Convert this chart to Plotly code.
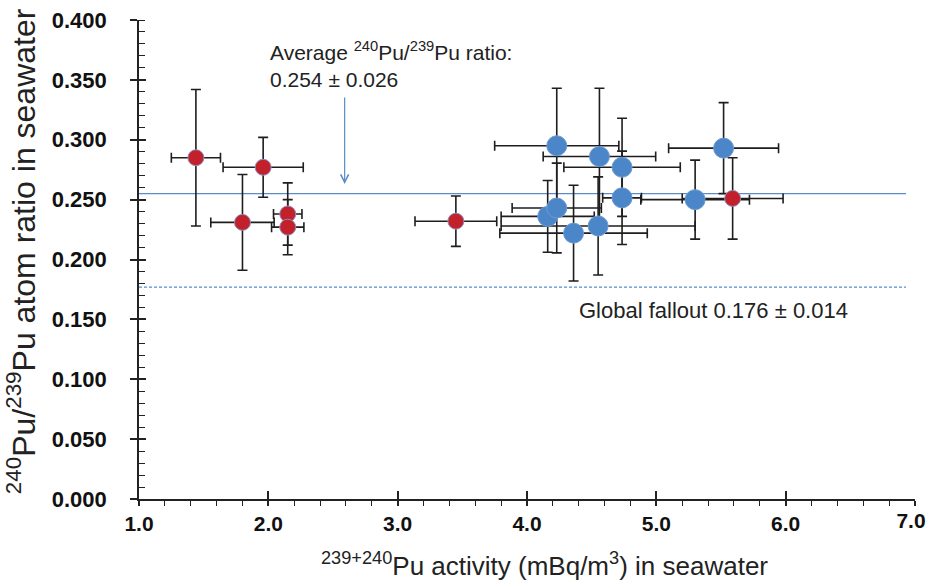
import plotly.graph_objects as go

# ---------------- data ----------------
red_x = [1.44, 1.96, 1.80, 2.15, 2.15, 3.45, 5.59]
red_y = [0.285, 0.277, 0.231, 0.238, 0.227, 0.232, 0.251]
red_xerr = [0.19, 0.31, 0.245, 0.11, 0.125, 0.316, 0.39]
red_yerr = [0.057, 0.025, 0.040, 0.026, 0.023, 0.021, 0.034]

blue_x = [4.23, 4.56, 4.735, 4.735, 4.16, 4.23, 4.36, 4.55, 5.30, 5.52]
blue_y = [0.295, 0.286, 0.277, 0.2515, 0.236, 0.243, 0.222, 0.228, 0.250, 0.293]
blue_xerr = [0.48, 0.435, 0.45, 0.15, 0.36, 0.345, 0.57, 0.75, 0.42, 0.425]
blue_yerr = [0.048, 0.057, 0.041, 0.039, 0.030, 0.0375, 0.040, 0.041, 0.033, 0.038]

avg_ratio = 0.255
fallout_ratio = 0.177
ref_line_x = [1.0, 6.93]

arrow_x = 2.59
arrow_y_top = 0.3365
arrow_y_tip = 0.263

x_range = [1.0, 7.0]
y_range = [0.0, 0.4]
x_tick_vals = [1, 2, 3, 4, 5, 6, 7]
x_tick_text = ["1.0", "2.0", "3.0", "4.0", "5.0", "6.0", "7.0"]

avg_text_1 = "Average <sup>240</sup>Pu/<sup>239</sup>Pu ratio:"
avg_text_2 = "0.254 ± 0.026"
fallout_text = "Global fallout 0.176 ± 0.014"
x_title = "<sup>239+240</sup>Pu activity (mBq/m<sup>3</sup>) in seawater"
y_title = "<sup>240</sup>Pu/<sup>239</sup>Pu atom ratio in seawater"

# ---------------- styles ----------------
FONT = "Liberation Sans, Arial, sans-serif"
AX = "#222222"
EB = "#1e1e1e"
RED = "#c2202b"
BLUE = "#4a86c8"
LINE_BLUE = "#5b8bc9"

fig = go.Figure()

# reference lines
fig.add_trace(go.Scatter(x=ref_line_x, y=[avg_ratio, avg_ratio], mode="lines",
                         line=dict(color=LINE_BLUE, width=1.3), hoverinfo="skip", showlegend=False))
fig.add_trace(go.Scatter(x=ref_line_x, y=[fallout_ratio, fallout_ratio], mode="lines",
                         line=dict(color=LINE_BLUE, width=1.2, dash="3px,2px"), hoverinfo="skip",
                         showlegend=False))

# error bars (drawn below all markers)
for xs, ys, xe, ye in [(blue_x, blue_y, blue_xerr, blue_yerr), (red_x, red_y, red_xerr, red_yerr)]:
    fig.add_trace(go.Scatter(
        x=xs, y=ys, mode="markers",
        marker=dict(color="rgba(0,0,0,0)", size=1),
        error_x=dict(type="data", array=xe, color=EB, thickness=1.6, width=5),
        error_y=dict(type="data", array=ye, color=EB, thickness=1.6, width=5),
        hoverinfo="skip", showlegend=False))

# markers
fig.add_trace(go.Scatter(x=blue_x, y=blue_y, mode="markers",
                         marker=dict(color=BLUE, size=20, line=dict(color="#6e9ad2", width=1)),
                         showlegend=False))
fig.add_trace(go.Scatter(x=red_x, y=red_y, mode="markers",
                         marker=dict(color=RED, size=16, line=dict(color="#8f8fc0", width=1)),
                         showlegend=False))

# invisible trace on overlay axes (for crossing major ticks)
fig.add_trace(go.Scatter(x=[None], y=[None], xaxis="x2", yaxis="y2", mode="markers",
                         showlegend=False, hoverinfo="skip"))

# main axis labels 1.0..6.0, last label (7.0) drawn by the overlay axis, nudged left to fit
main_text = x_tick_text[:-1] + [""]
last_text = [""] * (len(x_tick_text) - 1) + [x_tick_text[-1]]

xfont = dict(family=FONT, size=21, color="#111111", weight="bold")

fig.update_layout(
    width=927, height=582,
    margin=dict(l=139, r=12, t=20, b=83, autoexpand=False),
    paper_bgcolor="white", plot_bgcolor="white",
    font=dict(family=FONT, color="#111111"),
    xaxis=dict(range=x_range, tickmode="array", tickvals=x_tick_vals, ticktext=main_text,
               automargin=False, showline=True, linecolor=AX, linewidth=1.6, mirror=False,
               ticks="outside", ticklen=5, tickwidth=1.6, tickcolor=AX,
               minor=dict(dtick=0.2, tick0=1, ticks="outside", ticklen=5, tickwidth=1.3,
                          tickcolor=AX, showgrid=False),
               showgrid=False, zeroline=False, tickfont=xfont,
               ticklabelstandoff=0, ticklabeloverflow="allow"),
    yaxis=dict(range=y_range, tick0=0, dtick=0.05, tickformat=".3f", automargin=False,
               showline=True, linecolor=AX, linewidth=1.6,
               ticks="outside", ticklen=7, tickwidth=1.6, tickcolor=AX,
               minor=dict(dtick=0.01, ticks="inside", ticklen=6, tickwidth=1.3, tickcolor=AX, showgrid=False),
               showgrid=False, zeroline=False,
               tickfont=dict(family=FONT, size=22, color="#111111", weight="bold"),
               ticklabelstandoff=19, ticklabeloverflow="allow"),
    xaxis2=dict(range=x_range, overlaying="x", anchor="y", side="bottom",
                tickmode="array", tickvals=x_tick_vals, ticktext=last_text,
                ticks="inside", ticklen=8, tickwidth=1.6, tickcolor=AX, showticklabels=True,
                tickfont=xfont, ticklabelstandoff=7, ticklabelshift=-4, ticklabeloverflow="allow",
                showline=False, showgrid=False, zeroline=False, automargin=False),
    yaxis2=dict(range=y_range, overlaying="y", anchor="x", side="left", tick0=0, dtick=0.05,
                ticks="inside", ticklen=7, tickwidth=1.6, tickcolor=AX, showticklabels=False,
                showline=False, showgrid=False, zeroline=False, automargin=False),
    annotations=[
        dict(x=arrow_x, y=arrow_y_tip, ax=arrow_x, ay=arrow_y_top, xref="x", yref="y",
             axref="x", ayref="y", text="", showarrow=True, arrowhead=5, arrowsize=1.3,
             arrowwidth=1.2, arrowcolor=LINE_BLUE, standoff=0, startstandoff=0),
        dict(x=1.995, y=0.3745, xref="x", yref="y", text=avg_text_1, showarrow=False,
             xanchor="left", yanchor="middle", font=dict(family=FONT, size=21, color="#222222")),
        dict(x=1.995, y=0.350, xref="x", yref="y", text=avg_text_2, showarrow=False,
             xanchor="left", yanchor="middle", font=dict(family=FONT, size=21, color="#222222")),
        dict(x=4.388, y=0.1574, xref="x", yref="y", text=fallout_text, showarrow=False,
             xanchor="left", yanchor="middle", font=dict(family=FONT, size=22, color="#222222")),
        dict(x=0.522, y=-0.137, xref="paper", yref="paper", text=x_title, showarrow=False,
             xanchor="center", yanchor="middle", font=dict(family=FONT, size=26, color="#222222")),
        dict(x=-0.151, y=0.517, xref="paper", yref="paper", text=y_title, showarrow=False,
             textangle=-90, xanchor="center", yanchor="middle",
             font=dict(family=FONT, size=32, color="#222222")),
    ],
)

fig.write_html("out.html", config={"displayModeBar": False},
               post_script="document.body.style.margin='0';document.body.style.overflow='hidden';")
